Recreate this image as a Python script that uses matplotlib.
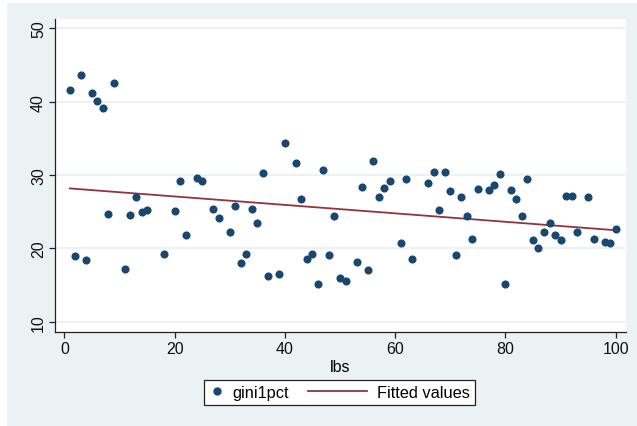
import numpy as np
import matplotlib
matplotlib.use("Agg")
import matplotlib.pyplot as plt
from matplotlib.lines import Line2D
from matplotlib.legend_handler import HandlerLine2D
from matplotlib.patches import Rectangle

plt.rcParams['font.family'] = ['Liberation Sans', 'DejaVu Sans']

lbs = [1, 2, 3, 4, 5, 6, 7, 8, 9, 11, 12, 13, 14, 15, 18, 20, 21, 22, 24, 25,
       27, 28, 30, 31, 32, 33, 34, 35, 36, 37, 39, 40, 42, 43, 44, 45, 46, 47, 48, 49,
       50, 51, 53, 54, 55, 56, 57, 58, 59, 61, 62, 63, 66, 67, 68, 69, 70, 71, 72, 73,
       74, 75, 77, 78, 79, 80, 81, 82, 83, 84, 85, 86, 87, 88, 89, 90, 91, 92, 93, 95,
       96, 98, 99, 100]
gini1pct = [41.56, 18.98, 43.7, 18.4, 41.2, 40.07, 39.2, 24.7, 42.5, 17.25, 24.6, 27.0, 24.9, 25.2, 19.25, 25.1, 29.2, 21.84, 29.6, 29.2,
            25.4, 24.2, 22.2, 25.8, 18.0, 19.3, 25.3, 23.5, 30.3, 16.26, 16.5, 34.4, 31.6, 26.7, 18.6, 19.3, 15.1, 30.7, 19.1, 24.4,
            15.9, 15.5, 18.2, 28.4, 17.1, 31.9, 27.0, 28.2, 29.2, 20.75, 29.45, 18.6, 28.9, 30.4, 25.24, 30.4, 27.8, 19.1, 27.0, 24.4,
            21.3, 28.1, 28.0, 28.7, 30.2, 15.2, 27.9, 26.7, 24.4, 29.4, 21.2, 20.0, 22.3, 23.5, 21.8, 21.1, 27.2, 27.2, 22.2, 27.0,
            21.3, 20.9, 20.7, 22.6]
xticks = [0, 20, 40, 60, 80, 100]
yticks = [10, 20, 30, 40, 50]

navy = '#1a476f'
maroon = '#90353b'
bg = '#eaf2f3'

W, H = 637, 427
fig = plt.figure(figsize=(W/100, H/100), dpi=100)
fig.patch.set_facecolor('white')
fig.patches.append(Rectangle((7/W, 0), 1 - 7/W, 1 - 4/H, transform=fig.transFigure,
                             facecolor=bg, edgecolor='none', zorder=-10))

ax = fig.add_axes([55/W, 1 - 333/H, (626-55)/W, (333-20)/H])
ax.set_facecolor('white')
ax.set_zorder(1)

x = np.array(lbs, dtype=float)
y = np.array(gini1pct, dtype=float)
b, a = np.polyfit(x, y, 1)
xf = np.array([x.min(), x.max()])

ax.scatter(x, y, s=34, color=navy, zorder=3, linewidths=0, label='gini1pct')
ax.plot(xf, a + b*xf, color=maroon, lw=1.3, zorder=2, label='Fitted values')

ax.set_xlim(-1.69, 101.87)
ax.set_ylim(8.6, 51.27)
ax.set_xticks(xticks)
ax.set_yticks(yticks)
ax.yaxis.grid(True, color=bg, lw=1.5, zorder=0)
ax.set_axisbelow(True)
for s in ['top', 'right']:
    ax.spines[s].set_visible(False)
for s in ['left', 'bottom']:
    ax.spines[s].set_color('#222222')
    ax.spines[s].set_linewidth(0.9)
ax.tick_params(axis='both', length=4.5, width=0.9, color='#222222', labelsize=11.5, labelcolor='#111111', pad=2)
for lab in ax.get_yticklabels():
    lab.set_rotation(90)
    lab.set_va('center')
ax.set_xlabel('lbs', fontsize=11.5, labelpad=2)


class LongLineHandler(HandlerLine2D):
    def create_artists(self, legend, orig_handle, xdescent, ydescent, width, height, fontsize, trans):
        extra = 45 * 72 / 100
        yc = height / 2 - ydescent
        ln = Line2D([-xdescent - extra, width - xdescent - 2], [yc, yc],
                    color=maroon, lw=1.3)
        ln.set_transform(trans)
        return [ln]


h1 = Line2D([], [], marker='o', ls='none', color=navy, markersize=6, markeredgewidth=0)
h2 = Line2D([], [], color=maroon, lw=1.3)
leg = fig.legend([h1, h2], ['gini1pct', 'Fitted values'], loc='center',
                 bbox_to_anchor=(339.5/W, 1 - 393.5/H), ncol=2, fontsize=11.8,
                 frameon=True, fancybox=False, edgecolor='#222222', facecolor='white',
                 framealpha=1, handlelength=1.0, handletextpad=0.45, columnspacing=3.9,
                 borderpad=0.32, handler_map={h2: LongLineHandler()})
leg.get_frame().set_linewidth(0.9)

fig.savefig('out.png', dpi=100, facecolor=fig.get_facecolor())
